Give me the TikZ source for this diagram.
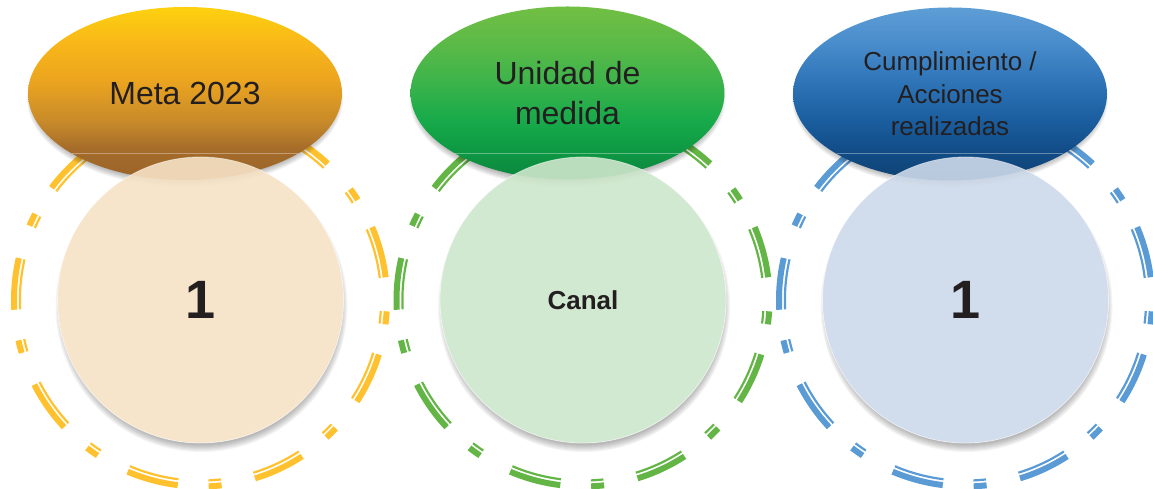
\documentclass[tikz,border=0pt]{standalone}
\usepackage{fontspec}
\setmainfont{Liberation Sans}
\usetikzlibrary{shapes.geometric}

\definecolor{txtc}{HTML}{231F20}
% yellow group
\definecolor{yring}{HTML}{FFC12E}
\definecolor{ycirc}{HTML}{F6E2C6}
\definecolor{ysA}{HTML}{9A6429}
\definecolor{ysB}{HTML}{A56C2A}
\definecolor{ysC}{HTML}{C88A2A}
\definecolor{ysD}{HTML}{ECA51F}
\definecolor{ysE}{HTML}{F9B818}
\definecolor{ysF}{HTML}{FDD10F}
% green group
\definecolor{gring}{HTML}{63B545}
\definecolor{gcirc}{HTML}{CDE7CB}
\definecolor{gsA}{HTML}{0B853D}
\definecolor{gsB}{HTML}{0E9A44}
\definecolor{gsC}{HTML}{17AA4A}
\definecolor{gsD}{HTML}{3FB44A}
\definecolor{gsE}{HTML}{5DBA47}
\definecolor{gsF}{HTML}{72BF44}
% blue group
\definecolor{bring}{HTML}{5B9BD5}
\definecolor{bcirc}{HTML}{CDD9EA}
\definecolor{bsA}{HTML}{0E4273}
\definecolor{bsB}{HTML}{124D88}
\definecolor{bsC}{HTML}{1A5D9E}
\definecolor{bsD}{HTML}{2F75B8}
\definecolor{bsE}{HTML}{4A8DCC}
\definecolor{bsF}{HTML}{5E9ED6}

\pgfdeclareverticalshading{yshade}{100bp}{color(0bp)=(ysA); color(25bp)=(ysA); color(34bp)=(ysB); color(42bp)=(ysC); color(54bp)=(ysD); color(65bp)=(ysE); color(75bp)=(ysF); color(100bp)=(ysF)}
\pgfdeclareverticalshading{gshade}{100bp}{color(0bp)=(gsA); color(25bp)=(gsA); color(34bp)=(gsB); color(42bp)=(gsC); color(54bp)=(gsD); color(65bp)=(gsE); color(75bp)=(gsF); color(100bp)=(gsF)}
\pgfdeclareverticalshading{bshade}{100bp}{color(0bp)=(bsA); color(25bp)=(bsA); color(34bp)=(bsB); color(42bp)=(bsC); color(54bp)=(bsD); color(65bp)=(bsE); color(75bp)=(bsF); color(100bp)=(bsF)}

\newcommand{\dashring}[2]{%
  \foreach \a in {7,47,...,327} {%
    \pgfmathsetmacro{\ae}{\a+16}%
    \pgfmathsetmacro{\bs}{\a+25.5}%
    \pgfmathsetmacro{\be}{\a+29.5}%
    \draw[ringthick,#2] ([shift={(\a:186.5pt)}]#1,189) arc[start angle=\a, end angle=\ae, radius=186.5pt];
    \draw[ringthin,#2] ([shift={(\a:180.6pt)}]#1,189) arc[start angle=\a, end angle=\ae, radius=180.6pt];
    \draw[ringthick,#2] ([shift={(\bs:186.5pt)}]#1,189) arc[start angle=\bs, end angle=\be, radius=186.5pt];
    \draw[ringthin,#2] ([shift={(\bs:180.6pt)}]#1,189) arc[start angle=\bs, end angle=\be, radius=180.6pt];
  }%
}
\newcommand{\ellshadow}[1]{%
  \foreach \i in {0,...,7} {%
    \pgfmathsetmacro{\rx}{151+\i}%
    \pgfmathsetmacro{\ry}{81+\i}%
    \fill[black,opacity=0.045] (#1,390) ellipse [x radius=\rx pt, y radius=\ry pt];
  }%
}
\newcommand{\circshadow}[1]{%
  \foreach \i in {0,...,7} {%
    \pgfmathsetmacro{\rr}{139+\i}%
    \fill[black,opacity=0.04] (#1+1,183) circle [radius=\rr pt];
  }%
}
\newcommand{\gloss}[1]{%
  \begin{scope}
    \clip (#1,395.5) ellipse [x radius=157pt, y radius=86.5pt];
    \draw[white,opacity=0.35,line width=0.8pt] (#1-160,336) -- (#1+160,336);
  \end{scope}%
}

\tikzset{
  ringthick/.style={line width=6pt},
  ringthin/.style={line width=2.2pt},
  headbox/.style={ellipse, minimum width=314pt, minimum height=173pt, inner sep=0pt,
    align=center, text=txtc},
  bigcirc/.style={circle, minimum size=286pt, inner sep=0pt, text=txtc,
    draw=white, draw opacity=0.5, line width=0.8pt, fill opacity=0.9, text opacity=1},
}

\begin{document}
\begin{tikzpicture}[x=1pt,y=1pt]
\useasboundingbox (0,0) rectangle (1153,489);

% ---------- rings ----------
\dashring{200.5}{yring}
\dashring{583}{gring}
\dashring{965.5}{bring}

% ---------- circle shadows and white bases ----------
\circshadow{200.5}
\circshadow{583}
\circshadow{965.5}
\fill[white] (200.5,189) circle [radius=143pt];
\fill[white] (583,189) circle [radius=143pt];
\fill[white] (965.5,189) circle [radius=143pt];

% ---------- header ellipses ----------
\ellshadow{185}
\node[headbox, shade, shading=yshade, font=\fontsize{32}{40}\selectfont] (meta) at (185,395.5) {Meta 2023};
\gloss{185}

\ellshadow{567.5}
\node[headbox, shade, shading=gshade, font=\fontsize{32}{40}\selectfont] (unidad) at (567.5,396) {Unidad de\\medida};
\gloss{567.5}

\ellshadow{950}
\node[headbox, shade, shading=bshade, font=\fontsize{26}{32.5}\selectfont] (cumpl) at (950,395) {Cumplimiento /\\Acciones\\realizadas};
\gloss{950}

% ---------- value circles ----------
\node[bigcirc, fill=ycirc, font=\bfseries\fontsize{54}{60}\selectfont] (v1) at (200.5,189) {1};
\node[bigcirc, fill=gcirc, font=\bfseries\fontsize{26}{30}\selectfont] (v2) at (583,189) {Canal};
\node[bigcirc, fill=bcirc, font=\bfseries\fontsize{54}{60}\selectfont] (v3) at (965.5,189) {1};
\end{tikzpicture}
\end{document}
